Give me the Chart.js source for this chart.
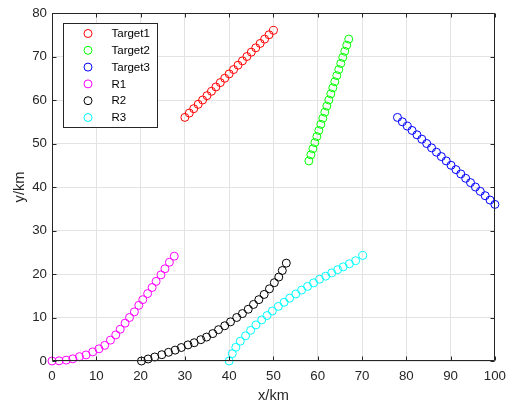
<!DOCTYPE html>
<html><head><meta charset="utf-8">
<script src="https://cdn.jsdelivr.net/npm/chart.js@4"></script>
<style>html,body{margin:0;padding:0;background:#fff;} canvas{display:block;}</style>
</head><body>
<canvas id="c" width="513" height="403"></canvas>
<script>
const seriesNames = ['Target1', 'Target2', 'Target3', 'R1', 'R2', 'R3'];
const seriesColors = ['#ff0000', '#00ff00', '#0000ff', '#ff00ff', '#000000', '#00ffff'];

const t1X = [30, 31, 32, 33, 34, 35, 36, 37, 38, 39, 40, 41, 42, 43, 44, 45, 46, 47, 48, 49, 50];
const t1Y = [56, 57, 58, 59, 60, 61, 62, 63, 64, 65, 66, 67, 68, 69, 70, 71, 72, 73, 74, 75, 76];

const t2X = [58, 58.45, 58.9, 59.35, 59.8, 60.25, 60.7, 61.15, 61.6, 62.05, 62.5, 62.95, 63.4, 63.85, 64.3, 64.75, 65.2, 65.65, 66.1, 66.55, 67];
const t2Y = [46, 47.4, 48.8, 50.2, 51.6, 53, 54.4, 55.8, 57.2, 58.6, 60, 61.4, 62.8, 64.2, 65.6, 67, 68.4, 69.8, 71.2, 72.6, 74];

const t3X = [78, 79.1, 80.2, 81.3, 82.4, 83.5, 84.6, 85.7, 86.8, 87.9, 89, 90.1, 91.2, 92.3, 93.4, 94.5, 95.6, 96.7, 97.8, 98.9, 100];
const t3Y = [56, 55, 54, 53, 52, 51, 50, 49, 48, 47, 46, 45, 44, 43, 42, 41, 40, 39, 38, 37, 36];

const r1X = [0, 1.6, 3.2, 4.7, 6.2, 7.7, 9.2, 10.6, 11.9, 13.2, 14.4, 15.4, 16.5, 17.5, 18.6, 19.6, 20.5, 21.6, 22.6, 23.5, 24.6, 25.5, 26.5, 27.6];
const r1Y = [0, 0.05, 0.2, 0.5, 1.0, 1.4, 2.1, 2.8, 3.6, 4.8, 6.0, 7.3, 8.7, 10.0, 11.3, 12.8, 14.1, 15.5, 16.9, 18.3, 19.8, 21.2, 22.7, 24.1];

const r2X = [20.2, 21.7, 23.2, 24.8, 26.3, 27.8, 29.2, 30.7, 32.1, 33.6, 34.9, 36.3, 37.6, 39.0, 40.3, 41.7, 43.0, 44.3, 45.5, 46.7, 47.9, 49.1, 50.2, 51.2, 52.0, 52.9];
const r2Y = [0, 0.46, 0.92, 1.45, 2.0, 2.5, 3.1, 3.7, 4.2, 4.9, 5.5, 6.3, 7.2, 8.1, 9.0, 10.0, 10.9, 11.9, 13.0, 14.1, 15.3, 16.6, 18.0, 19.3, 20.8, 22.5];

const r3X = [40.0, 40.7, 41.5, 42.5, 43.7, 44.85, 46.05, 47.35, 48.55, 49.75, 51.1, 52.4, 53.65, 55.05, 56.35, 57.7, 59.05, 60.4, 61.8, 63.15, 64.5, 65.75, 67.15, 68.55, 70.15];
const r3Y = [0, 1.7, 3.15, 4.55, 5.8, 7.05, 8.3, 9.45, 10.45, 11.5, 12.55, 13.5, 14.45, 15.4, 16.3, 17.15, 17.95, 18.8, 19.5, 20.25, 21.0, 21.65, 22.35, 23.05, 24.25];

const xTicks = [0, 10, 20, 30, 40, 50, 60, 70, 80, 90, 100];
const yTicks = [0, 10, 20, 30, 40, 50, 60, 70, 80];
const xTitle = 'x/km';
const yTitle = 'y/km';

const seriesX = [t1X, t2X, t3X, r1X, r2X, r3X];
const seriesY = [t1Y, t2Y, t3Y, r1Y, r2Y, r3Y];

const FONT = '"Liberation Sans", Arial, Helvetica, sans-serif';
const AXIS = '#262626';

const datasets = seriesNames.map((name, i) => ({
  label: name,
  data: seriesX[i].map((x, j) => ({x: x, y: seriesY[i][j]})),
  showLine: false,
  pointStyle: 'circle',
  pointRadius: 4,
  pointHoverRadius: 4,
  pointBorderWidth: 1,
  borderColor: seriesColors[i],
  backgroundColor: 'rgba(0,0,0,0)',
  clip: false
}));

const frame = {
  id: 'frame',
  afterDraw(chart) {
    const {ctx, chartArea: a, scales: {x, y}} = chart;
    ctx.save();
    ctx.strokeStyle = AXIS;
    ctx.lineWidth = 1;
    const L = Math.round(a.left) + 0.5, R = Math.round(a.right) - 0.5;
    const T = Math.round(a.top) + 0.5, B = Math.round(a.bottom) - 0.5;
    ctx.beginPath();
    ctx.rect(L, T, R - L, B - T);
    const tl = 4;
    x.ticks.forEach(t => {
      const px = Math.round(x.getPixelForValue(t.value)) + 0.5;
      ctx.moveTo(px, B); ctx.lineTo(px, B - tl);
      ctx.moveTo(px, T); ctx.lineTo(px, T + tl);
    });
    y.ticks.forEach(t => {
      const py = Math.round(y.getPixelForValue(t.value)) + 0.5;
      ctx.moveTo(L, py); ctx.lineTo(L + tl, py);
      ctx.moveTo(R, py); ctx.lineTo(R - tl, py);
    });
    ctx.stroke();

    // legend box
    const bx = Math.round(a.left + 11) + 0.5, by = Math.round(a.top + 10) + 0.5;
    const bw = 94, bh = 104;
    ctx.fillStyle = '#ffffff';
    ctx.fillRect(bx, by, bw, bh);
    ctx.strokeStyle = AXIS;
    ctx.strokeRect(bx, by, bw, bh);
    ctx.font = '11.5px ' + FONT;
    ctx.textBaseline = 'middle';
    ctx.textAlign = 'left';
    chart.data.datasets.forEach((ds, i) => {
      const cy = by + 10 + i * 16.8;
      ctx.beginPath();
      ctx.arc(bx + 24.5, cy, 4, 0, Math.PI * 2);
      ctx.strokeStyle = ds.borderColor;
      ctx.stroke();
      ctx.fillStyle = '#000000';
      ctx.fillText(ds.label, bx + 48, cy + 0.5);
    });
    ctx.restore();
  }
};

new Chart(document.getElementById('c'), {
  type: 'scatter',
  data: {datasets: datasets},
  options: {
    responsive: false,
    animation: false,
    events: [],
    layout: {padding: {top: 13, right: 17, left: 0, bottom: 0}},
    plugins: {legend: {display: false}, tooltip: {enabled: false}},
    scales: {
      x: {
        type: 'linear', min: 0, max: 100,
        afterBuildTicks: s => { s.ticks = xTicks.map(v => ({value: v})); },
        afterFit: s => { s.height = 42; },
        grid: {color: '#e3e3e3', drawTicks: false, lineWidth: 1},
        border: {display: false},
        ticks: {color: AXIS, padding: 7, font: {family: FONT, size: 13.3}, maxRotation: 0},
        title: {display: true, text: xTitle, color: AXIS, font: {family: FONT, size: 14.6, lineHeight: 1}, padding: {top: 0, bottom: 0}}
      },
      y: {
        type: 'linear', min: 0, max: 80,
        afterBuildTicks: s => { s.ticks = yTicks.map(v => ({value: v})); },
        afterFit: s => { s.width = 52; },
        grid: {color: '#e3e3e3', drawTicks: false, lineWidth: 1},
        border: {display: false},
        ticks: {color: AXIS, padding: 5, font: {family: FONT, size: 13.3}},
        title: {display: true, text: yTitle, color: AXIS, font: {family: FONT, size: 14.6, lineHeight: 1}, padding: {top: 12.7, bottom: 0}}
      }
    }
  },
  plugins: [frame]
});
</script>
</body></html>
